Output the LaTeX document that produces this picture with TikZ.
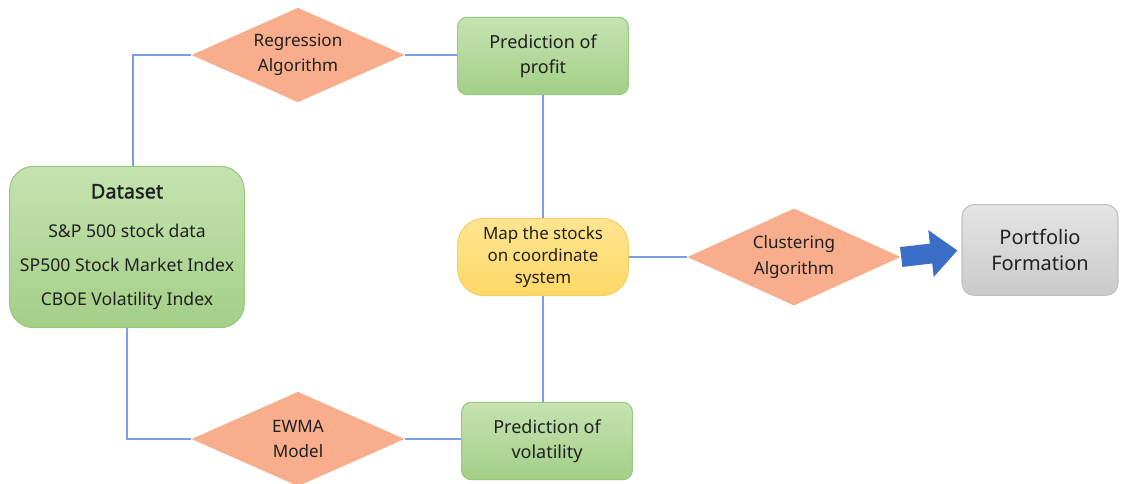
\documentclass[tikz,border=0pt]{standalone}
\usepackage{fontspec}
\setmainfont{Noto Sans}[AutoFakeBold=1.6]
\usetikzlibrary{shapes.geometric,arrows.meta}
\definecolor{greentop}{HTML}{C5E3B1}
\definecolor{greenbot}{HTML}{A3CF87}
\definecolor{greenline}{HTML}{98C97C}
\definecolor{salmon}{HTML}{F8AE8D}
\definecolor{yellowtop}{HTML}{FFE592}
\definecolor{yellowbot}{HTML}{FFD866}
\definecolor{yellowline}{HTML}{F5CF63}
\definecolor{graytop}{HTML}{E4E4E4}
\definecolor{graybot}{HTML}{CACACA}
\definecolor{grayline}{HTML}{C0C0C0}
\definecolor{linkblue}{HTML}{79A0E6}
\definecolor{arrowblue}{HTML}{3B6FC7}
\definecolor{txt}{HTML}{202020}
\begin{document}
\begin{tikzpicture}[x=0.75pt, y=-0.75pt, thick,
    main/.style = {draw=greenline, rounded corners=7pt, top color=greentop, bottom color=greenbot, text=txt, align=center, minimum width=128pt, minimum height=58pt, font=\fontsize{13.5}{19}\selectfont},
    algo/.style = {diamond, aspect=2.2, inner sep=0pt, fill=salmon, text=txt, align=center, minimum width=160pt, minimum height=71pt, font=\fontsize{12.8}{19}\selectfont},
    link/.style = {draw=linkblue, line width=1.3pt}]
        \useasboundingbox (0,0) rectangle (1126,484);
        \node[main, rounded corners=18pt, minimum width=176pt, minimum height=121pt, font=\fontsize{13.2}{25.5}\selectfont] (data) at (127,247) {{\bfseries\fontsize{15}{17}\selectfont Dataset}\\[4pt]S\&P 500 stock data\\SP500 Stock Market Index\\CBOE Volatility Index};
        \node[algo] (reg) at (298,55) {Regression\\Algorithm};
        \node[main] (profit) at (543,56) {Prediction of\\profit};
        \node[main, rounded corners=20pt, draw=yellowline, top color=yellowtop, bottom color=yellowbot, font=\fontsize{12.7}{16.5}\selectfont] (map) at (543,257) {Map the stocks\\on coordinate\\system};
        \node[algo, minimum height=73pt] (clus) at (794,257) {Clustering\\Algorithm};
        \node[main, draw=grayline, top color=graytop, bottom color=graybot, rounded corners=9pt, minimum width=117pt, minimum height=68pt, font=\fontsize{15}{20}\selectfont] (port) at (1040,250) {Portfolio\\Formation};
        \node[algo] (ewma) at (298,439) {EWMA\\Model};
        \node[main] (vol) at (547,441) {Prediction of\\volatility};
        \draw[link] ([xshift=4.5pt]data.north) |- (reg.west);
        \draw[link] (data.south) |- (ewma.west);
        \draw[link] (reg.east) -- (reg.east -| profit.west);
        \draw[link] (profit.south) -- (map.north);
        \draw[link] (map.east) -- (clus.west);
        \draw[link] (map.south) -- (map.south |- vol.north);
        \draw[link] (ewma.east) -- (ewma.east -| vol.west);
        \draw[-{Triangle[length=20pt,width=34pt]}, line width=15pt, draw=arrowblue, shorten >=3pt] (clus.east) -- (port.west);
    \end{tikzpicture}
\end{document}
